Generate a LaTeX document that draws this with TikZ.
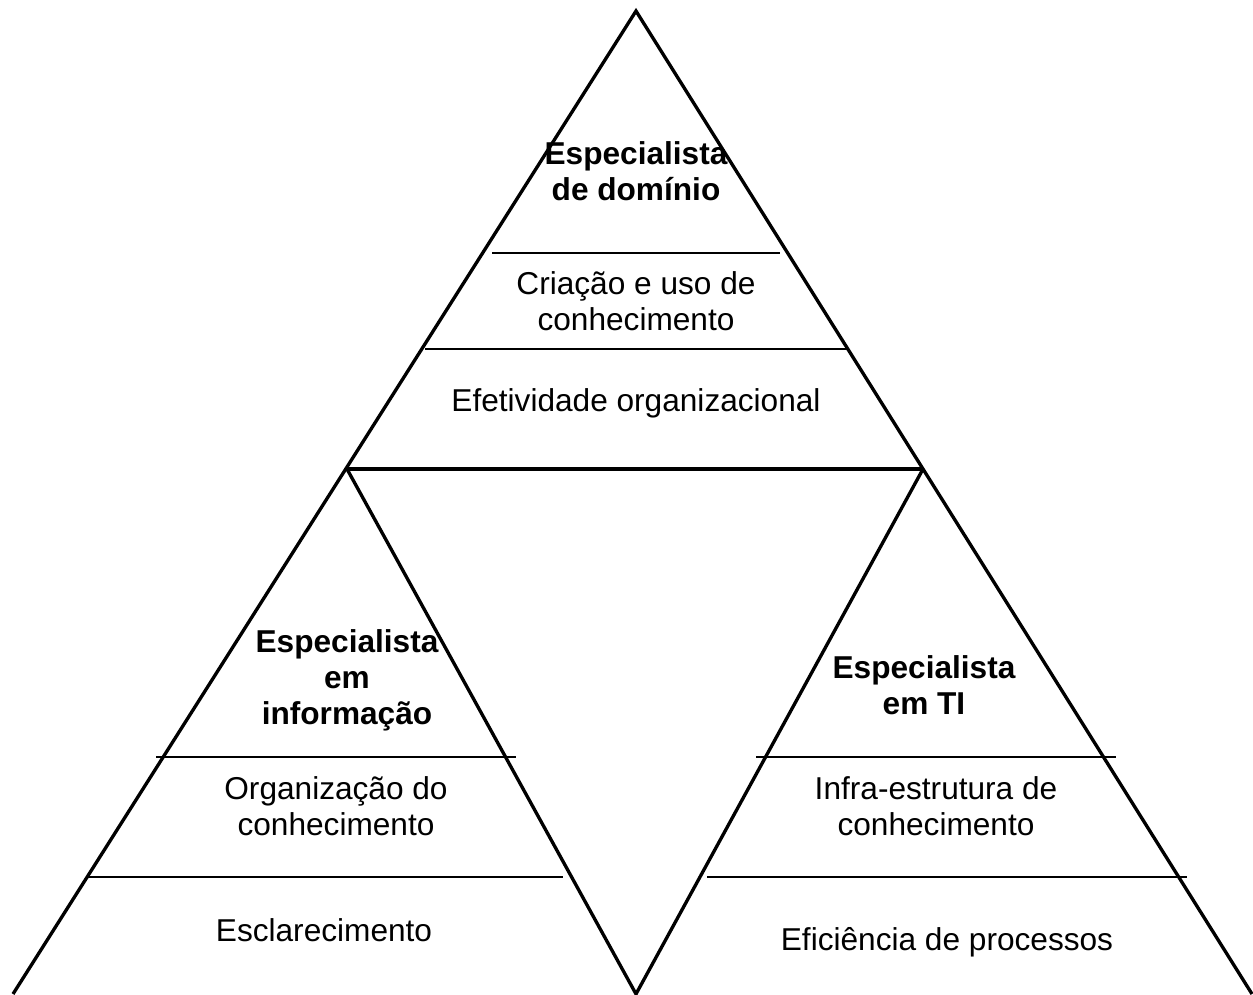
\documentclass[tikz,border=0pt]{standalone}
\usepackage{fontspec}
\setmainfont{Liberation Sans}
\usetikzlibrary{positioning}
\tikzset{
edge/.style={line width=1.9pt},
divider/.style={line width=1.1pt},
level/.style={align=center, inner sep=0pt, font=\fontsize{18}{20.5}\selectfont},
role/.style={level, font=\fontsize{18}{20.5}\selectfont\bfseries},
}

\begin{document}
\begin{tikzpicture}[x=0.02cm, y=-0.02cm]
    \useasboundingbox (0,0) rectangle (1253,994);

    %corners
    \coordinate (apex) at (636,11);
    \coordinate (midL) at (347,469);
    \coordinate (midR) at (923,469);
    \coordinate (botL) at (13,994);
    \coordinate (botM) at (636,994);
    \coordinate (botR) at (1252,994);

    %outer and inner edges
    \draw[edge] (botL)--(apex)--(botR);
    \draw[edge] (midL)--(midR);
    \draw[edge] (midL)--(botM)--(midR);

    %dividers top
    \coordinate (t1a) at (492,253); \coordinate (t1b) at (780,253);
    \coordinate (t2a) at (425,349); \coordinate (t2b) at (848,349);
    \draw[divider] (t1a)--(t1b);
    \draw[divider] (t2a)--(t2b);

    %dividers left
    \coordinate (l1a) at (156,757); \coordinate (l1b) at (516,757);
    \coordinate (l2a) at (88,877);  \coordinate (l2b) at (563,877);
    \draw[divider] (l1a)--(l1b);
    \draw[divider] (l2a)--(l2b);

    %dividers right
    \coordinate (r1a) at (756,757); \coordinate (r1b) at (1116,757);
    \coordinate (r2a) at (707,877); \coordinate (r2b) at (1187,877);
    \draw[divider] (r1a)--(r1b);
    \draw[divider] (r2a)--(r2b);

    %texts top
    \node[role]  (dominio)  at (636,171) {Especialista\\de domínio};
    \node[level] (criacao)  at (636,301) {Criação e uso de\\conhecimento};
    \node[level] (efetiv)   at (636,403) {Efetividade organizacional};

    %texts left
    \node[role]  (info)     at (347,680) {Especialista\\em\\informação};
    \node[level] (organiz)  at (336,806) {Organização do\\conhecimento};
    \node[level] (esclar)   at (324,930) {Esclarecimento};

    %texts right
    \node[role]  (ti)       at (924,685) {Especialista\\em TI};
    \node[level] (infra)    at (936,806) {Infra-estrutura de\\conhecimento};
    \node[level] (eficien)  at (947,942) {Eficiência de processos};

\end{tikzpicture}
\end{document}
